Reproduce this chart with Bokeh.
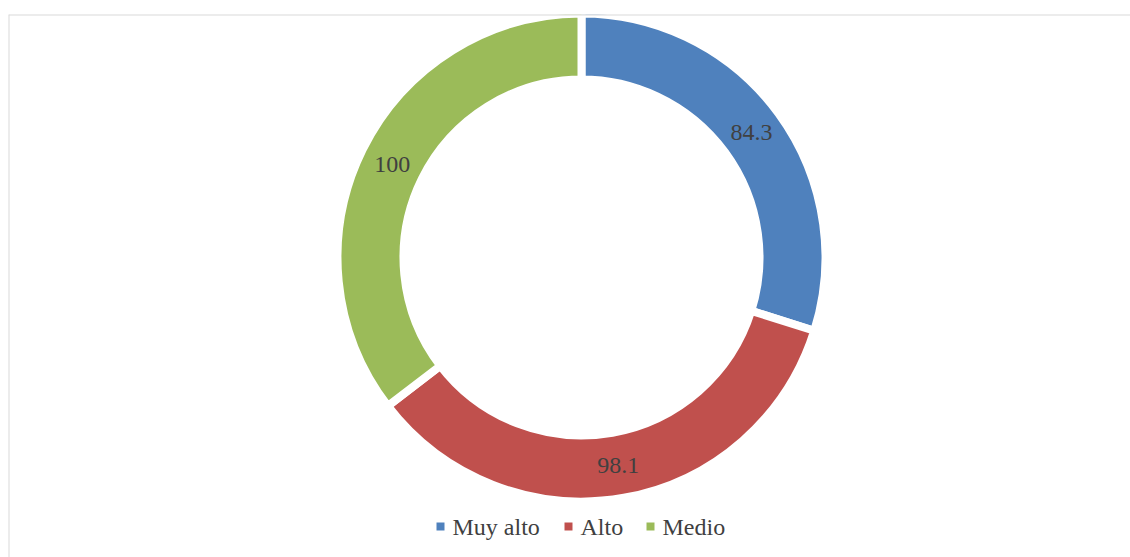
import math
from bokeh.plotting import figure
from bokeh.models import Range1d, Span, ColumnDataSource
from bokeh.core.properties import value
from bokeh.embed import file_html
from bokeh.resources import INLINE

categories = ["Muy alto", "Alto", "Medio"]
values = [84.3, 98.1, 100]
labels = ["84.3", "98.1", "100"]
colors = ["#4F81BD", "#C0504D", "#9BBB59"]

W, H = 1130, 557
TOP, LEFT = 14, 8
FW, FH = W - LEFT, H - TOP

p = figure(width=W, height=H, output_backend="svg", toolbar_location=None,
           x_range=Range1d(0, FW), y_range=Range1d(0, FH),
           min_border_left=LEFT, min_border_right=0, min_border_top=TOP, min_border_bottom=0)
p.axis.visible = False
p.grid.visible = False
p.outline_line_color = None
p.background_fill_color = "white"
p.border_fill_color = "white"

cx, cy = 573, 300
r_out, r_in = 244, 178
total = sum(values)
starts, ends, mids = [], [], []
acc = 0.0
for v in values:
    a0 = acc / total * 2 * math.pi
    acc += v
    a1 = acc / total * 2 * math.pi
    starts.append(math.pi / 2 - a1)
    ends.append(math.pi / 2 - a0)
    mids.append((a0 + a1) / 2)

src = ColumnDataSource(dict(start=starts, end=ends, color=colors,
                            x=[cx] * 3, y=[cy] * 3))
p.annular_wedge(x="x", y="y", inner_radius=r_in, outer_radius=r_out,
                start_angle="start", end_angle="end", fill_color="color",
                line_color="white", line_width=8, source=src)

r_lab = (r_out + r_in) / 2
lx = [cx + r_lab * math.sin(m) for m in mids]
ly = [cy + r_lab * math.cos(m) for m in mids]
p.text(x=lx, y=ly, text=labels, text_align="center", text_baseline="middle",
       text_font=value("Liberation Serif"), text_font_size="24px", text_color="#404040")

# legend
leg_sq_x = [432, 560, 642]
leg_y = [31] * 3
p.scatter(x=leg_sq_x, y=leg_y, marker="square", size=8, fill_color=colors, line_color=None)
p.text(x=[x + 12 for x in leg_sq_x], y=leg_y, text=categories, text_align="left",
       text_baseline="middle", text_font=value("Liberation Serif"),
       text_font_size="24px", text_color="#404040")

p.add_layout(Span(location=FH, dimension="width", line_color="#d9d9d9", line_width=2))
p.add_layout(Span(location=0, dimension="height", line_color="#d9d9d9", line_width=2))

open("out.html", "w").write(file_html(p, INLINE))
